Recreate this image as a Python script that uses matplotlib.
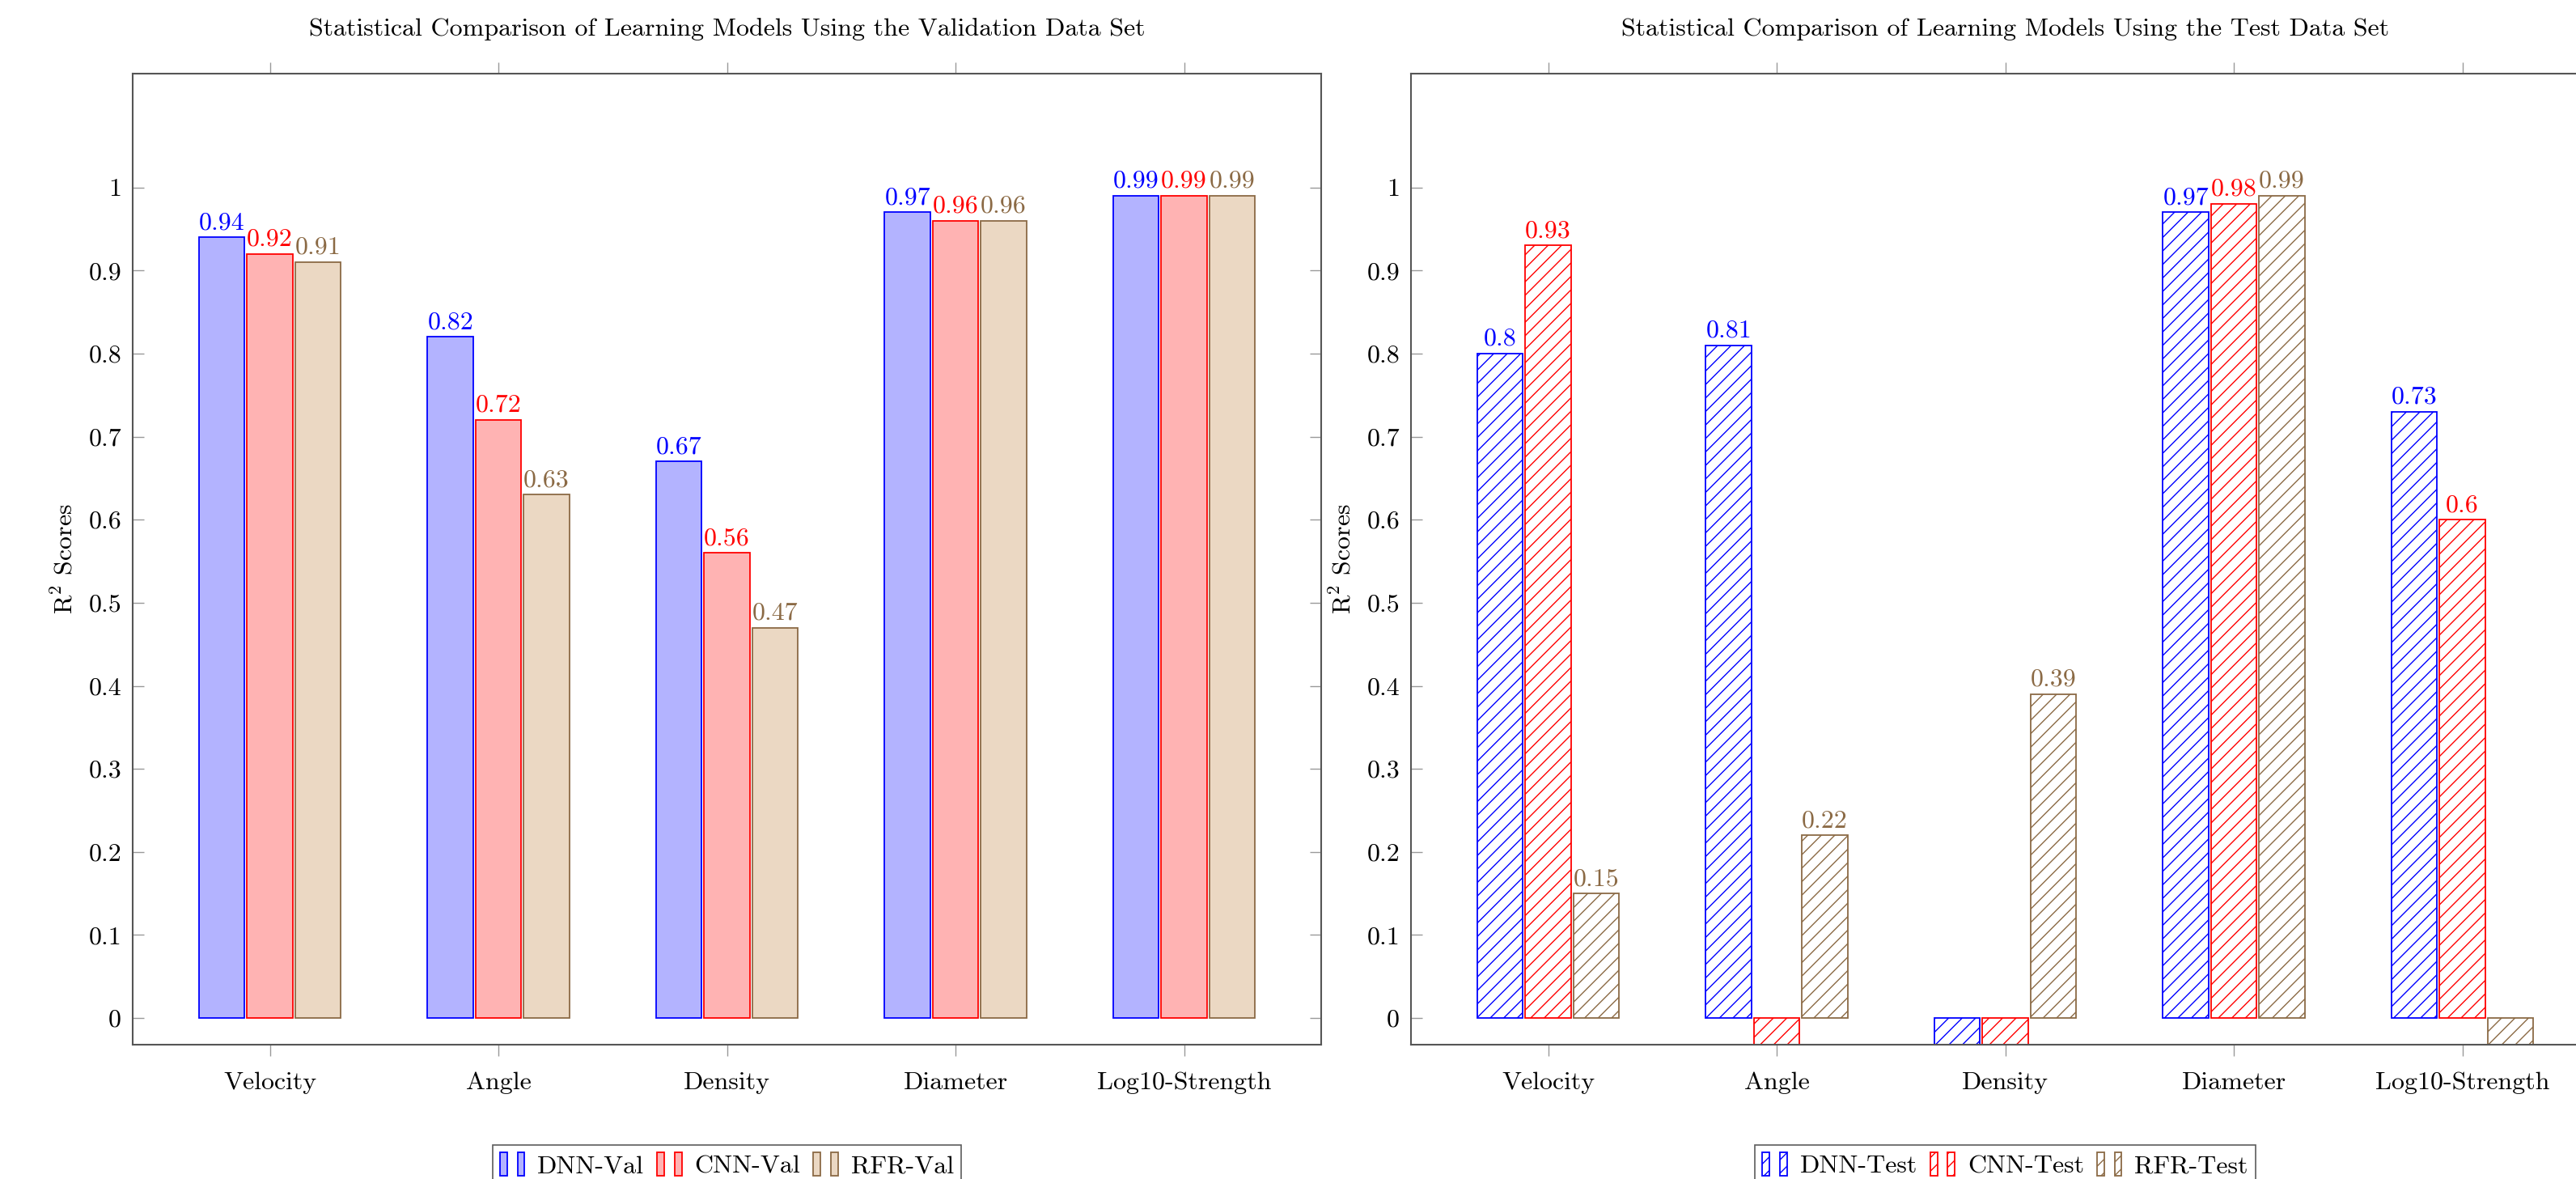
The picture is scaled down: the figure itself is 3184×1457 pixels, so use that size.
import numpy as np
import matplotlib
matplotlib.use("Agg")
import matplotlib.pyplot as plt
from matplotlib.patches import Rectangle
from matplotlib.legend_handler import HandlerTuple
from matplotlib.ticker import FuncFormatter

plt.rcParams["font.family"] = ["cmr10", "DejaVu Serif"]
plt.rcParams["mathtext.fontset"] = "cm"
plt.rcParams["axes.formatter.use_mathtext"] = True
plt.rcParams["hatch.linewidth"] = 1.0

categories = ["Velocity", "Angle", "Density", "Diameter", "Log10-Strength"]

# validation scores
dnn_val = [0.94, 0.82, 0.67, 0.97, 0.99]
cnn_val = [0.92, 0.72, 0.56, 0.96, 0.99]
rfr_val = [0.91, 0.63, 0.47, 0.96, 0.99]

# test scores (negative R2 values fall below the axis)
dnn_test = [0.80, 0.81, -0.05, 0.97, 0.73]
cnn_test = [0.93, -0.12, -0.08, 0.98, 0.60]
rfr_test = [0.15, 0.22, 0.39, 0.99, -0.21]

yticks = [0, 0.1, 0.2, 0.3, 0.4, 0.5, 0.6, 0.7, 0.8, 0.9, 1.0]

blue, red, brown = "#0000ff", "#ff0000", "#8b6a45"
blue_fill, red_fill, brown_fill = "#b3b3ff", "#ffb3b3", "#ebd8c3"

FS = 23
x = np.arange(len(categories))
width = 0.2
shift = 0.21


def style_axes(ax, title):
    ax.set_xlim(-0.6, len(categories) - 0.4)
    ax.set_ylim(-0.032, 1.137)
    ax.set_xticks(x)
    ax.set_xticklabels(categories, fontsize=FS)
    ax.set_yticks(yticks)
    ax.yaxis.set_major_formatter(FuncFormatter(lambda v, p: f"{v:g}"))
    ax.tick_params(axis="y", direction="in", left=True, right=True, length=10,
                   width=1, color="#999999", labelsize=FS, pad=10)
    ax.tick_params(axis="x", direction="out", top=True, bottom=True, length=10,
                   width=1, color="#999999", labelsize=FS, pad=14)
    for s in ax.spines.values():
        s.set_color("#555555")
        s.set_linewidth(1.5)
    ax.set_ylabel(r"R$^2$ Scores", fontsize=FS, labelpad=10)
    ax.set_title(title, fontsize=FS, pad=34)


def draw_group(ax, vals, offset, edge, fill, hatch, label):
    bars = ax.bar(x + offset, vals, width, color=fill, edgecolor=edge,
                  linewidth=1.3, hatch=hatch, label=label)
    for b, v in zip(bars, vals):
        if v >= 0:
            ax.annotate(f"{v:g}", (b.get_x() + b.get_width() / 2, v),
                        xytext=(0, 3), textcoords="offset points",
                        ha="center", va="bottom", color=edge, fontsize=FS)
    return bars


def add_legend(ax, specs, hatch):
    handles, labels = [], []
    for edge, fill, label in specs:
        r1 = Rectangle((0, 0), 1, 1, facecolor=fill, edgecolor=edge, hatch=hatch, lw=1.3)
        r2 = Rectangle((0, 0), 1, 1, facecolor=fill, edgecolor=edge, hatch=hatch, lw=1.3)
        handles.append((r1, r2))
        labels.append(label)
    leg = ax.legend(handles, labels, loc="upper center", bbox_to_anchor=(0.5, -0.103),
                    ncol=3, fontsize=FS, frameon=True, fancybox=False,
                    handler_map={tuple: HandlerTuple(ndivide=None, pad=0.4)},
                    handlelength=0.95, handleheight=1.0, handletextpad=0.5,
                    columnspacing=0.5, borderpad=0.3, borderaxespad=0)
    leg.get_frame().set_edgecolor("#333333")
    leg.get_frame().set_linewidth(1.2)


fig = plt.figure(figsize=(31.84, 14.57), dpi=100)
ax1 = fig.add_axes([164 / 3184, 1 - 1291 / 1457, 1469 / 3184, 1200 / 1457])
ax2 = fig.add_axes([1744 / 3184, 1 - 1291 / 1457, 1469 / 3184, 1200 / 1457])

draw_group(ax1, dnn_val, -shift, blue, blue_fill, None, "DNN-Val")
draw_group(ax1, cnn_val, 0, red, red_fill, None, "CNN-Val")
draw_group(ax1, rfr_val, shift, brown, brown_fill, None, "RFR-Val")
style_axes(ax1, "Statistical Comparison of Learning Models Using the Validation Data Set")
add_legend(ax1, [(blue, blue_fill, "DNN-Val"), (red, red_fill, "CNN-Val"),
                 (brown, brown_fill, "RFR-Val")], None)

draw_group(ax2, dnn_test, -shift, blue, "white", "//", "DNN-Test")
draw_group(ax2, cnn_test, 0, red, "white", "//", "CNN-Test")
draw_group(ax2, rfr_test, shift, brown, "white", "//", "RFR-Test")
style_axes(ax2, "Statistical Comparison of Learning Models Using the Test Data Set")
add_legend(ax2, [(blue, "white", "DNN-Test"), (red, "white", "CNN-Test"),
                 (brown, "white", "RFR-Test")], "//")

fig.savefig("out.png", dpi=100)
